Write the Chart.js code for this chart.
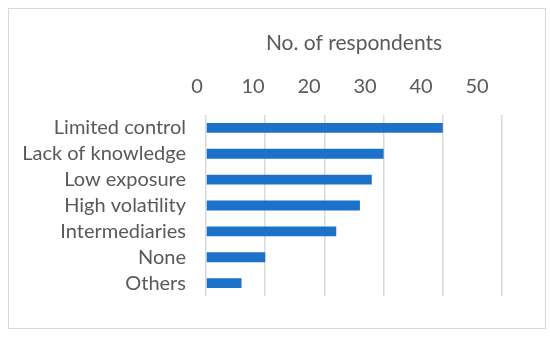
<!DOCTYPE html>
<html>
<head>
<meta charset="utf-8">
<script src="https://cdn.jsdelivr.net/npm/chart.js@4"></script>
<style>
  body { margin: 0; background: #fff; }
  #box { position: absolute; left: 8px; top: 8px; width: 536px; height: 319px; border: 1px solid #d9d9d9; }
</style>
</head>
<body>
<div id="box"><canvas id="chart" width="536" height="319"></canvas></div>
<script>
// reasons / respondents
const categories = ['Limited control', 'Lack of knowledge', 'Low exposure', 'High volatility', 'Intermediaries', 'None', 'Others'];
const respondents = [40, 30, 28, 26, 22, 10, 6];
const xTicks = [0, 10, 20, 30, 40, 50];

const grey = '#595959';
const font = 'Lato, "Open Sans", sans-serif';

new Chart(document.getElementById('chart'), {
  type: 'bar',
  data: {
    labels: categories,
    datasets: [{
      data: respondents,
      xAxisID: 'x',
      backgroundColor: '#1b72c8',
      borderWidth: 0,
      barPercentage: 0.38,
      categoryPercentage: 1,
    }],
  },
  options: {
    indexAxis: 'y',
    responsive: false,
    animation: false,
    layout: { padding: { top: 0, right: 43, bottom: 24, left: 0 } },
    plugins: { legend: { display: false }, tooltip: { enabled: false } },
    scales: {
      // value axis: grid lines only
      x: {
        position: 'top',
        min: xTicks[0],
        max: xTicks[xTicks.length - 1],
        afterBuildTicks: (s) => { s.ticks = xTicks.map(v => ({ value: v })); },
        afterFit: (s) => { s.height = 0; },
        grid: { color: '#d9d9d9', lineWidth: 1.5, drawTicks: false },
        border: { display: false },
        ticks: { display: false },
      },
      // label axis, placed as in the original figure (labels sit a bit left of the grid)
      xLabels: {
        type: 'linear',
        position: 'top',
        min: 1.6,
        max: 54.46,
        afterBuildTicks: (s) => { s.ticks = xTicks.map(v => ({ value: v })); },
        afterFit: (s) => { s.height = 106; },
        grid: { display: false, drawTicks: false },
        border: { display: false },
        ticks: { color: grey, font: { family: font, size: 20 }, padding: 16 },
        title: { display: true, text: 'No. of respondents', color: grey, font: { family: font, size: 21 }, padding: { top: 22, bottom: 0 } },
      },
      y: {
        afterFit: (s) => { s.width = 197; },
        grid: { display: false, drawTicks: false },
        border: { display: false },
        ticks: { color: grey, font: { family: font, size: 20 }, padding: 20, autoSkip: false },
      },
    },
  },
});
</script>
</body>
</html>
